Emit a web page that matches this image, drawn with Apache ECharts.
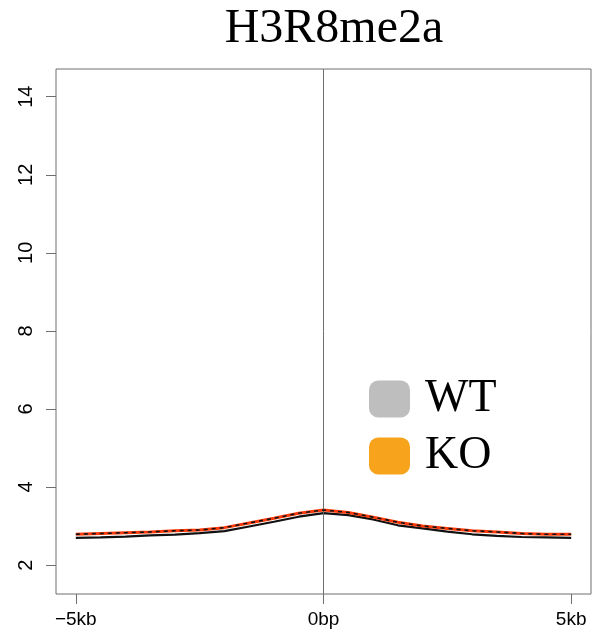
<!DOCTYPE html>
<html>
<head>
<meta charset="utf-8">
<script src="https://cdn.jsdelivr.net/npm/echarts@6/dist/echarts.min.js"></script>
<style>
    html, body { margin: 0; padding: 0; background: #fff; }
    #main { width: 595px; height: 644px; }
</style>
</head>
<body>
<div id="main"></div>
<script>
// 位置 (kb)
var positions = [-5, -4.5, -4, -3.5, -3, -2.5, -2, -1.5, -1, -0.5, 0, 0.5, 1, 1.5, 2, 2.5, 3, 3.5, 4, 4.5, 5];
var wtValues = [2.70, 2.71, 2.73, 2.76, 2.78, 2.82, 2.87, 2.99, 3.11, 3.24, 3.33, 3.28, 3.17, 3.02, 2.94, 2.86, 2.79, 2.75, 2.72, 2.71, 2.70];
var koValues = [2.79, 2.81, 2.83, 2.85, 2.88, 2.90, 2.96, 3.08, 3.20, 3.33, 3.41, 3.35, 3.23, 3.10, 3.00, 2.94, 2.88, 2.85, 2.81, 2.79, 2.79];
var xTicks = [-5, 0, 5];
var xTickLabels = ['\u22125kb', '0bp', '5kb'];
var yTicks = [2, 4, 6, 8, 10, 12, 14];
var seriesNames = ['WT', 'KO'];

function pairs(xs, ys) {
    var out = [];
    for (var i = 0; i < xs.length; i++) {
        out.push([xs[i], ys[i]]);
    }
    return out;
}

var myChart = echarts.init(document.getElementById('main'));
var option = {
    animation: false,
    title: {
        text: 'H3R8me2a',
        left: 329,
        top: 0,
        textAlign: 'center',
        textStyle: {
            fontFamily: 'Liberation Serif',
            fontWeight: 'normal',
            fontSize: 48,
            color: '#000'
        }
    },
    legend: {
        data: [
            { name: seriesNames[0], itemStyle: { color: '#bebebe' } },
            { name: seriesNames[1], itemStyle: { color: '#f8a31c' } }
        ],
        orient: 'vertical',
        left: 369,
        top: 376,
        padding: 0,
        icon: 'roundRect',
        itemWidth: 41,
        itemHeight: 37,
        itemGap: 11,
        textStyle: {
            fontFamily: 'Liberation Serif',
            fontSize: 46,
            lineHeight: 37,
            color: '#000',
            padding: [0, 0, 0, 10]
        }
    },
    grid: {
        left: 56,
        right: 4,
        top: 69,
        bottom: 50,
        show: true,
        borderColor: '#6e6e6e',
        borderWidth: 1
    },
    xAxis: {
        type: 'value',
        min: -5.4,
        max: 5.4,
        axisLine: { show: false, onZero: false },
        splitLine: { show: false },
        axisTick: {
            show: true,
            length: 10,
            customValues: xTicks,
            lineStyle: { color: '#6e6e6e' }
        },
        axisLabel: {
            customValues: xTicks,
            margin: 16,
            fontFamily: 'Liberation Sans',
            fontSize: 19,
            color: '#000',
            formatter: function (v) {
                return xTickLabels[xTicks.indexOf(v)];
            }
        }
    },
    yAxis: {
        type: 'value',
        min: 1.26,
        max: 14.71,
        axisLine: { show: false, onZero: false },
        splitLine: { show: false },
        axisTick: {
            show: true,
            length: 10,
            customValues: yTicks,
            lineStyle: { color: '#6e6e6e' }
        },
        axisLabel: {
            customValues: yTicks,
            rotate: 90,
            margin: 20,
            fontFamily: 'Liberation Sans',
            fontSize: 20,
            color: '#000'
        }
    },
    series: [
        {
            name: seriesNames[0],
            type: 'line',
            showSymbol: false,
            data: pairs(positions, wtValues),
            itemStyle: { color: '#bebebe' },
            lineStyle: { color: '#111', width: 2.2 },
            markLine: {
                silent: true,
                symbol: 'none',
                label: { show: false },
                lineStyle: { color: '#6e6e6e', width: 1, type: 'solid' },
                data: [{ xAxis: 0 }]
            },
            z: 3
        },
        {
            name: seriesNames[1],
            type: 'line',
            showSymbol: false,
            data: pairs(positions, koValues),
            itemStyle: { color: '#f8a31c' },
            lineStyle: { color: '#ff3a0a', width: 3 },
            z: 4
        },
        {
            name: 'KO-dash',
            type: 'line',
            showSymbol: false,
            data: pairs(positions, koValues),
            lineStyle: { color: '#111', width: 1.6, type: [4, 4] },
            z: 5
        }
    ]
};

myChart.setOption(option);
window.addEventListener("resize", function () {
    myChart.resize();
});
</script>
</body>
</html>
